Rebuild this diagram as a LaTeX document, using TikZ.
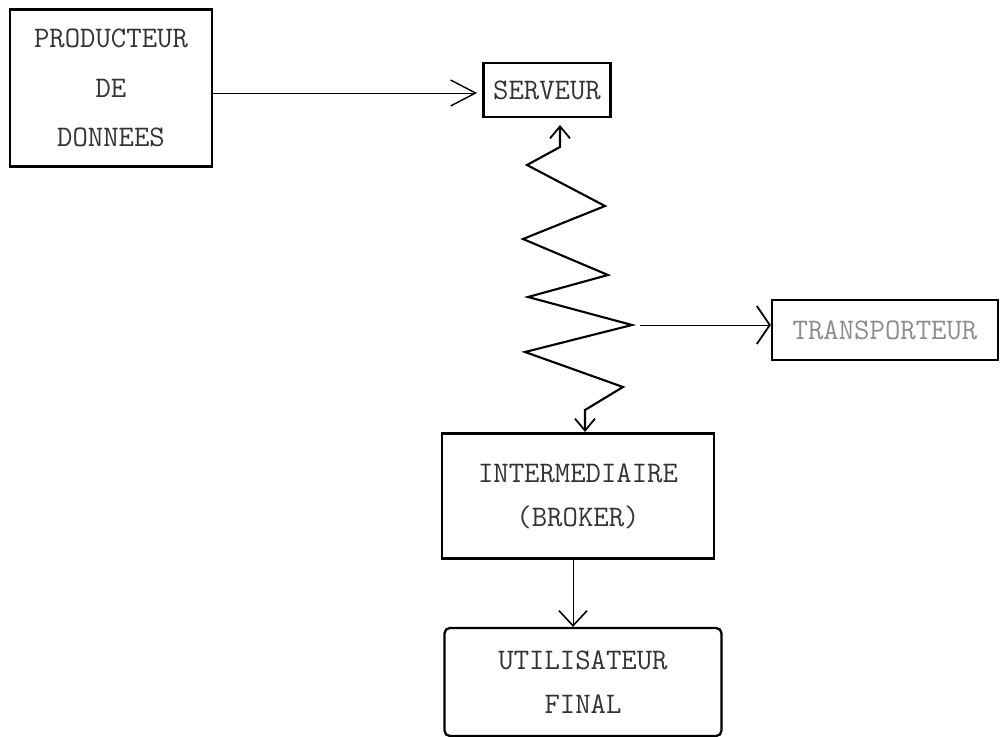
\documentclass[tikz,border=0pt]{standalone}
\usetikzlibrary{arrows.meta}
\tikzset{x=0.02cm, y=-0.02cm,
box/.style={ % Sets the properties for each box
draw, line width=1.3pt,
align=center, inner sep=0pt,
text=black!80,
font=\ttfamily\fontsize{17pt}{25pt}\selectfont},
link/.style={ % Sets the properties for each connector
draw, line width=0.5pt},
zigzag/.style={
draw, line width=1.2pt, line join=miter},
barb/.tip={Straight Barb[length=2.4mm, width=4mm, line width=1pt]}}

\begin{document}
\begin{tikzpicture}
\useasboundingbox (0,0) rectangle (1001,737);
\node[box, minimum width=4.04cm, minimum height=3.14cm,
  font=\ttfamily\fontsize{17pt}{28pt}\selectfont] (prod) at (111,88) {PRODUCTEUR\\DE\\DONNEES};
\node[box, minimum width=2.54cm, minimum height=1.08cm] (serv) at (547,90) {SERVEUR};
\node[box, minimum width=4.52cm, minimum height=1.2cm, text=black!45] (transp) at (885,330) {TRANSPORTEUR};
\node[box, minimum width=5.44cm, minimum height=2.5cm] (inter) at (578,496) {INTERMEDIAIRE\\(BROKER)};
\node[box, minimum width=5.54cm, minimum height=2.16cm, rounded corners=3pt] (util) at (583,682) {UTILISATEUR\\FINAL};
\coordinate (zr) at (640,325);
\draw[link, -{Straight Barb[length=5mm, width=5.2mm, line width=0.8pt]}, shorten >=3pt] (prod.east |- 0,93) -- (serv.west |- 0,93);
\draw[zigzag, barb-barb] (560,125) -- (560,147) -- (527,165) -- (605,206) -- (523,239) -- (608,275)
  -- (528,297) -- (632,325) -- (525,352) -- (623,387) -- (585,410) -- (585,432);
\draw[link, -{Straight Barb[length=2.6mm, width=7.6mm, line width=1pt]}] (zr) -- (zr -| transp.west);
\draw[link, -{Straight Barb[length=3mm, width=5.6mm, line width=0.9pt]}] ([xshift=-0.1cm]inter.south) -- ([xshift=-0.1cm]inter.south |- util.north);
\end{tikzpicture}
\end{document}
